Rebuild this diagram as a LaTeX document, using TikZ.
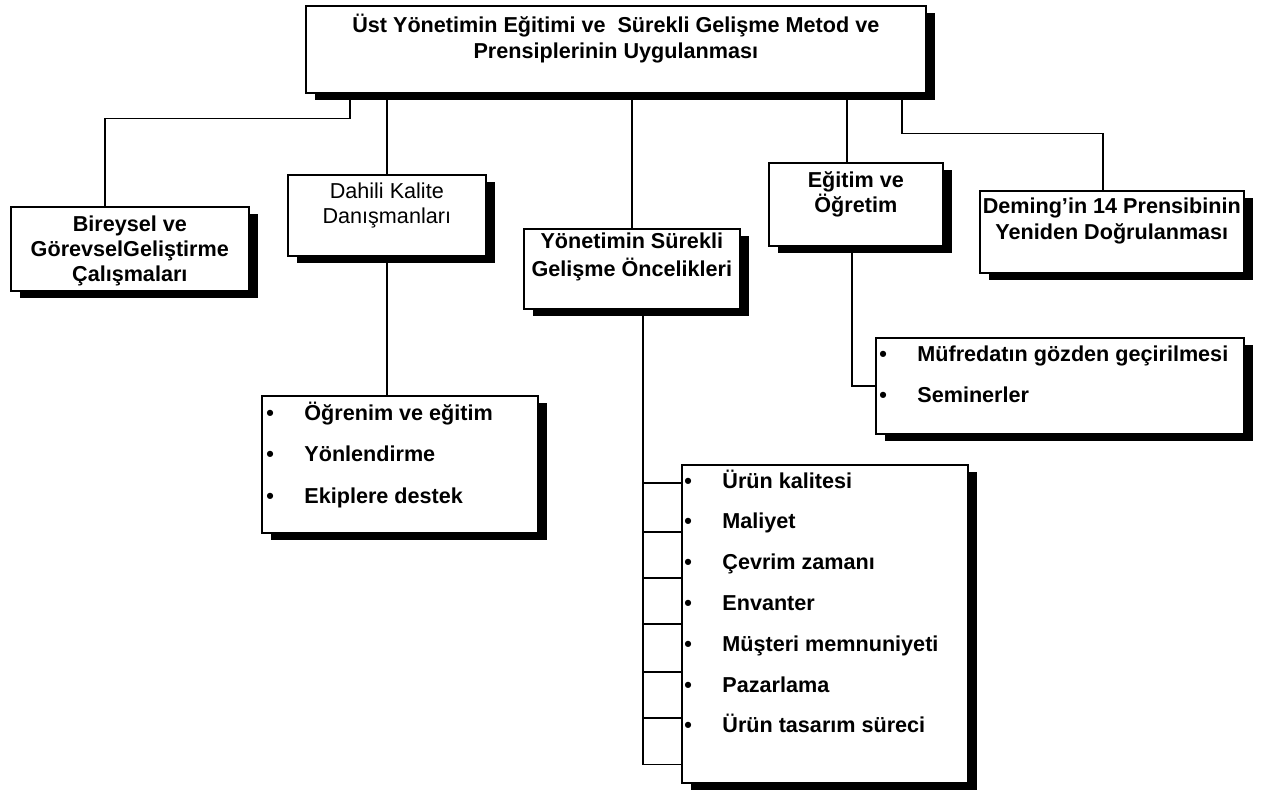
\documentclass[tikz,border=0pt]{standalone}
\usepackage{fontspec}
\setmainfont{Liberation Sans}
\usetikzlibrary{positioning,shadows,calc}
\tikzset{
  kutu/.style={draw,fill=white,line width=0.8pt,align=center,inner sep=0pt,anchor=north west,
    font=\fontsize{10.8}{13}\selectfont\bfseries,
    drop shadow={shadow xshift=4.5pt,shadow yshift=-3.5pt,fill=black,opacity=1}},
  mad/.style={anchor=base west,inner sep=0pt,font=\fontsize{10.8}{13}\selectfont\bfseries},
  hat/.style={line width=0.7pt},
}
\newcommand{\madde}[1]{\makebox[19pt][l]{\textbullet}#1}

\begin{document}
\begin{tikzpicture}[x=0.5pt,y=-0.5pt]
  \useasboundingbox (0,0) rectangle (1273,791);
  % kutular
  \node[kutu,minimum width=310pt,minimum height=43.5pt] (ust) at (305,5)
    {Üst Yönetimin Eğitimi ve\ \ Sürekli Gelişme Metod ve\\Prensiplerinin Uygulanması\\\mbox{}};
  \node[kutu,minimum width=119pt,minimum height=42pt,font=\fontsize{10.8}{12.5}\selectfont\bfseries] (bir) at (10,206)
    {\rule{0pt}{10pt}Bireysel ve\\GörevselGeliştirme\\Çalışmaları};
  \node[kutu,minimum width=99pt,minimum height=40.5pt,font=\fontsize{10.8}{12.5}\selectfont\mdseries] (dah) at (287,174)
    {Dahili Kalite\\Danışmanları\\\mbox{}};
  \node[kutu,minimum width=108pt,minimum height=40pt,font=\fontsize{10.8}{14}\selectfont\bfseries] (yon) at (523,228)
    {Yönetimin Sürekli\\Gelişme Öncelikleri\\\mbox{}};
  \node[kutu,minimum width=87pt,minimum height=41.5pt,font=\fontsize{10.8}{12.5}\selectfont\bfseries] (egi) at (768,162)
    {Eğitim ve\\Öğretim\\\mbox{}};
  \node[kutu,minimum width=132pt,minimum height=41pt] (dem) at (979,190)
    {Deming’in 14 Prensibinin\\Yeniden Doğrulanması\\\mbox{}};
  \node[kutu,minimum width=138pt,minimum height=68.5pt] (ogr) at (261,395) {};
  \node[kutu,minimum width=184pt,minimum height=48pt] (muf) at (875,337) {};
  \node[kutu,minimum width=143pt,minimum height=159pt] (onc) at (681,464) {};
  % maddeler
  \foreach \t [count=\i from 0] in {Öğrenim ve eğitim,Yönlendirme,Ekiplere destek}
    \node[mad] (ogr\i) at (266,420+41.5*\i) {\madde{\t}};
  \foreach \t [count=\i from 0] in {Müfredatın gözden geçirilmesi,Seminerler}
    \node[mad] (muf\i) at (879,361+41*\i) {\madde{\t}};
  \foreach \t [count=\i from 0] in {Ürün kalitesi,Maliyet,Çevrim zamanı,Envanter,Müşteri memnuniyeti,Pazarlama,Ürün tasarım süreci}
    \node[mad] (onc\i) at (684,488+40.8*\i) {\madde{\t}};
  % baglantilar
  \draw[hat] ([xshift=22.5pt]ust.south west) -- ++(0,25) -| ([xshift=47.5pt]bir.north west);
  \draw[hat] (dah.north) -- (dah.north |- ust.south);
  \draw[hat] (yon.north) -- (yon.north |- ust.south);
  \coordinate (e1) at ([xshift=39.5pt]egi.north west);
  \draw[hat] (e1) -- (e1 |- ust.south);
  \draw[hat] ([xshift=298.5pt]ust.south west) -- ++(0,40) -| ([xshift=62pt]dem.north west);
  \draw[hat] (dah.south) -- (dah.south |- ogr.north);
  \draw[hat] ([xshift=42pt]egi.south west) |- (muf.west);
  \coordinate (tarak) at ([xshift=60pt]yon.south west);
  \draw[hat] (tarak) |- ([yshift=9.5pt]onc.south west);
  \foreach \y in {483,532,578,624,672,718}
    \draw[hat] (tarak |- 0,\y) -- (onc.west |- 0,\y);
\end{tikzpicture}
\end{document}
